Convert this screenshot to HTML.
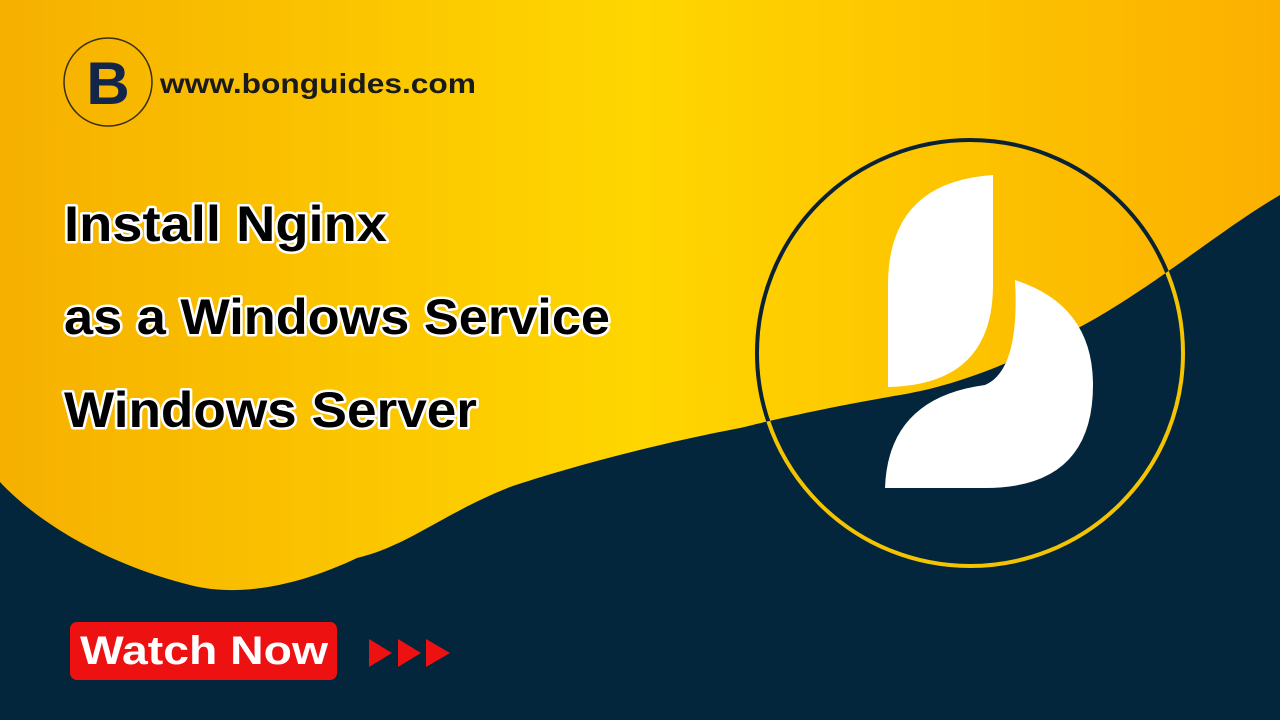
<!DOCTYPE html>
<html><head><meta charset="utf-8"><style>
html,body{margin:0;padding:0;width:1280px;height:720px;overflow:hidden;background:#03263c}
</style></head><body>
<svg width="1280" height="720" viewBox="0 0 1280 720" xmlns="http://www.w3.org/2000/svg">
<defs>
<linearGradient id="g" x1="0" y1="0" x2="1" y2="0">
<stop offset="0" stop-color="#f6b000"/>
<stop offset="0.5" stop-color="#ffd600"/>
<stop offset="1" stop-color="#fbb000"/>
</linearGradient>
<clipPath id="yc"><path id="yp" d="M0,0 H1280 V195 C1220,230 1150,290 1080,327 C1020,360 960,385 900,395 C840,405 780,418 740,428 C650,445 560,470 510,487 C440,515 410,545 357,558 C300,585 240,598 190,585 C110,565 40,525 0,482 Z"/></clipPath>
</defs>
<rect width="1280" height="720" fill="#03263c"/>
<path d="M0,0 H1280 V195 C1220,230 1150,290 1080,327 C1020,360 960,385 900,395 C840,405 780,418 740,428 C650,445 560,470 510,487 C440,515 410,545 357,558 C300,585 240,598 190,585 C110,565 40,525 0,482 Z" fill="url(#g)"/>
<!-- top-left logo -->
<circle cx="108" cy="82" r="44" fill="none" stroke="#3a2e10" stroke-width="1.5"/>
<text x="108" y="104" text-anchor="middle" font-family="Liberation Sans, sans-serif" font-weight="bold" font-size="60" fill="#14254a">B</text>
<text x="160" y="93" font-family="Liberation Sans, sans-serif" font-weight="bold" font-size="28" fill="#1a1a1a" textLength="316" lengthAdjust="spacingAndGlyphs">www.bonguides.com</text>
<!-- title -->
<g font-family="Liberation Sans, sans-serif" font-weight="bold" font-size="50" fill="#000" stroke="#fff" stroke-width="5" paint-order="stroke" stroke-linejoin="round">
<text x="64" y="241" textLength="323" lengthAdjust="spacingAndGlyphs">Install Nginx</text>
<text x="64" y="334" textLength="546" lengthAdjust="spacingAndGlyphs">as a Windows Service</text>
<text x="64" y="427" textLength="413" lengthAdjust="spacingAndGlyphs">Windows Server</text>
</g>
<!-- big circle logo -->
<circle cx="970" cy="353" r="213" fill="none" stroke="#f5c400" stroke-width="4"/>
<circle cx="970" cy="353" r="213" fill="none" stroke="#0a2233" stroke-width="4" clip-path="url(#yc)"/>
<path d="M993,175 L993,285 Q993,385 888,387 L888,285 Q888,182 993,175 Z" fill="#fff"/>
<path d="M1015,280 Q1093,305 1093,385 Q1093,488 985,488 L885,488 Q888,398 985,385 Q1020,370 1015,280 Z" fill="#fff"/>
<!-- button -->
<rect x="70" y="622" width="267" height="58" rx="7" fill="#ee1111"/>
<text x="80" y="664" font-family="Liberation Sans, sans-serif" font-weight="bold" font-size="40" fill="#fff" textLength="248" lengthAdjust="spacingAndGlyphs">Watch Now</text>
<g fill="#ee1111">
<polygon points="369,639 392,653 369,667"/>
<polygon points="398,639 421,653 398,667"/>
<polygon points="426,639 450,653 426,667"/>
</g>
</svg>
</body></html>
